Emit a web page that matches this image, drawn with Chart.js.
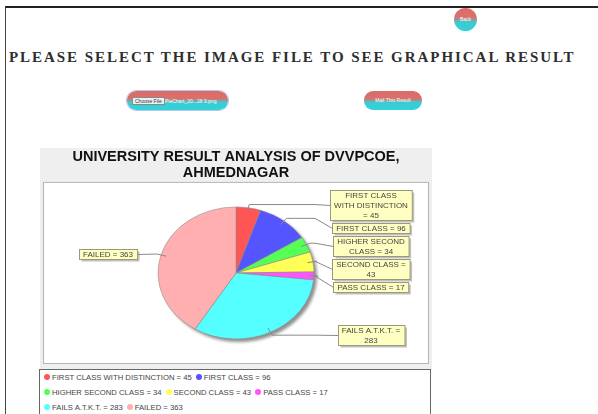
<!DOCTYPE html>
<html>
<head>
<meta charset="utf-8">
<script src="https://cdn.jsdelivr.net/npm/chart.js@4.4.1/dist/chart.umd.min.js"></script>
<style>
  body { margin: 0; width: 598px; height: 414px; overflow: hidden; background: #fff; position: relative; }
  .frame { position: absolute; left: 5px; top: 6px; right: -2px; bottom: -2px; border-top: 2px solid #222; border-left: 1px solid #444; }
  .back { position: absolute; left: 454px; top: 8px; width: 23px; height: 23px; border-radius: 50%;
    background: linear-gradient(#e06a64 0%, #d9736f 40%, #40c8cf 62%, #2fd3db 100%);
    color: #fff; font: 5px Arial, sans-serif; text-align: center; line-height: 23px; }
  h1 { position: absolute; left: 9px; top: 49px; margin: 0; font: bold 15px "Liberation Serif", serif; letter-spacing: 1.95px; color: #2e2e2e; white-space: nowrap; }
  .btn { position: absolute; height: 19px; border-radius: 9px;
    background: linear-gradient(#dc6a66 0%, #d8716d 42%, #3fc9d0 58%, #2fd3db 100%);
    color: #fff; font: 5px Arial, sans-serif; }
  .file { left: 127px; top: 91px; width: 101px; outline: 1px solid #b9c6ee; outline-offset: 0; }
  .file .choose { position: absolute; left: 5px; top: 6px; height: 6px; line-height: 6px; padding: 0 2px; background: #eee; color: #333; border: 1px solid #888; }
  .file .fname { position: absolute; left: 38px; top: 7px; }
  .mail { left: 364px; top: 91px; width: 58px; text-align: center; line-height: 19px; }
  #resultChart { position: absolute; left: 40px; top: 148px; }
  #legend { position: absolute; left: 39px; top: 369px; width: 390px; height: 50px; border: 1px solid #666; background: #fff;
    font: 7.7px Arial, sans-serif; color: #444; }
  #legend .row { height: 15px; line-height: 15px; white-space: nowrap; padding-left: 4px; }
  #legend .item { display: inline-block; margin-right: 4px; }
  #legend .dot { display: inline-block; width: 6px; height: 6px; border-radius: 50%; margin-right: 2px; vertical-align: 0px; }
</style>
</head>
<body>
<div class="frame"></div>
<div class="back">Back</div>
<h1>PLEASE SELECT THE IMAGE FILE TO SEE GRAPHICAL RESULT</h1>
<div class="btn file"><span class="choose">Choose File</span><span class="fname">PieChart_20...28 9.png</span></div>
<div class="btn mail">Mail This Result</div>
<canvas id="resultChart" width="392" height="222"></canvas>
<div id="legend"></div>
<script>
const categories = [
  "FIRST CLASS WITH DISTINCTION",
  "FIRST CLASS",
  "HIGHER SECOND CLASS",
  "SECOND CLASS",
  "PASS CLASS",
  "FAILS A.T.K.T.",
  "FAILED",
];
const counts = [45, 96, 34, 43, 17, 283, 363];
const sliceColors = ["#FF5555", "#5555FF", "#55FF55", "#FFFF55", "#FF55FF", "#55FFFF", "#FFAFAF"];
const chartTitle = ["UNIVERSITY RESULT ANALYSIS OF DVVPCOE,", "AHMEDNAGAR"];
const legendRows = [2, 3, 2];

// pie is drawn squashed like the old jfreechart image
const yScale = 0.846;

function labelText(i) {
  return categories[i] + " = " + counts[i];
}

// gray panel + white plot box
const panelBg = {
  id: "panelBg",
  beforeDraw(chart) {
    const { ctx, chartArea } = chart;
    ctx.save();
    ctx.fillStyle = "#efefef";
    ctx.fillRect(0, 0, chart.width, chart.height);
    ctx.fillStyle = "#fff";
    ctx.fillRect(chartArea.left, chartArea.top, chartArea.right - chartArea.left, chartArea.bottom - chartArea.top);
    ctx.strokeStyle = "#b5b5b5";
    ctx.lineWidth = 1;
    ctx.strokeRect(chartArea.left + 0.5, chartArea.top + 0.5, chartArea.right - chartArea.left - 1, chartArea.bottom - chartArea.top - 1);
    ctx.restore();
  },
};

const ellipsePie = {
  id: "ellipsePie",
  beforeDatasetsDraw(chart) {
    const ctx = chart.ctx;
    const arc = chart.getDatasetMeta(0).data[0];
    const { x, y, outerRadius } = arc.getProps(["x", "y", "outerRadius"], true);
    ctx.save();
    // shadow
    ctx.save();
    ctx.filter = "blur(1.5px)";
    ctx.fillStyle = "rgba(70,70,70,0.6)";
    ctx.beginPath();
    ctx.ellipse(x + 3, y + 3, outerRadius, outerRadius * yScale, 0, 0, Math.PI * 2);
    ctx.fill();
    ctx.restore();
    ctx.translate(x, y);
    ctx.scale(1, yScale);
    ctx.translate(-x, -y);
  },
  afterDatasetsDraw(chart) {
    chart.ctx.restore();
  },
};

function wrapText(ctx, text, maxWidth) {
  const words = text.split(" ");
  const lines = [];
  let line = "";
  words.forEach((w) => {
    const test = line ? line + " " + w : w;
    if (line && ctx.measureText(test).width > maxWidth) {
      lines.push(line);
      line = w;
    } else {
      line = test;
    }
  });
  lines.push(line);
  return lines;
}

const sliceLabels = {
  id: "sliceLabels",
  afterDraw(chart) {
    const ctx = chart.ctx;
    const meta = chart.getDatasetMeta(0);
    const area = chart.chartArea;
    ctx.save();
    ctx.font = "8px Arial";
    const lineH = 10;
    const sides = { left: [], right: [] };
    meta.data.forEach((arc, i) => {
      const p = arc.getProps(["x", "y", "startAngle", "endAngle", "outerRadius"], true);
      const mid = (p.startAngle + p.endAngle) / 2;
      const rx = p.outerRadius;
      const ry = p.outerRadius * yScale;
      const link = { x: p.x + Math.cos(mid) * rx * 0.93, y: p.y + Math.sin(mid) * ry * 0.93 };
      const elbow = { x: p.x + Math.cos(mid) * rx * 1.05, y: p.y + Math.sin(mid) * ry * 1.05 };
      const lines = wrapText(ctx, labelText(i), 74);
      const w = Math.max(...lines.map((l) => ctx.measureText(l).width)) + 8;
      const h = lines.length * lineH;
      const right = Math.cos(mid) >= 0;
      const cx = right ? p.x + rx + 57 : p.x - rx - 50;
      const anchorX = right ? p.x + rx + 1 : p.x - rx - 1;
      sides[right ? "right" : "left"].push({ link, elbow, lines, w, h, cx, anchorX, right, ideal: elbow.y });
    });
    Object.values(sides).forEach((list) => {
      list.sort((a, b) => a.ideal - b.ideal);
      let prevBottom = -Infinity;
      list.forEach((lb) => {
        lb.top = Math.max(lb.ideal - lb.h / 2, prevBottom + 3);
        prevBottom = lb.top + lb.h;
      });
      const over = prevBottom - (area.bottom - 4);
      if (over > 0) list.forEach((lb) => (lb.top -= over));
    });
    [...sides.left, ...sides.right].forEach((lb) => {
      const bx = Math.round(lb.cx - lb.w / 2) + 0.5;
      const by = Math.round(lb.top) + 0.5;
      const cy = by + lb.h / 2;
      const edgeX = lb.right ? bx : bx + lb.w;
      // link line
      ctx.strokeStyle = "#8a8a8a";
      ctx.lineWidth = 1;
      ctx.beginPath();
      ctx.moveTo(lb.link.x, lb.link.y);
      ctx.lineTo(lb.elbow.x, lb.elbow.y);
      ctx.lineTo(lb.anchorX, lb.elbow.y);
      ctx.lineTo(edgeX, cy);
      ctx.stroke();
      // box
      ctx.fillStyle = "rgba(140,140,140,0.55)";
      ctx.fillRect(bx + 2, by + 2, lb.w, lb.h);
      ctx.fillStyle = "#ffffc2";
      ctx.fillRect(bx, by, lb.w, lb.h);
      ctx.strokeStyle = "#9a9a7a";
      ctx.strokeRect(bx, by, lb.w, lb.h);
      ctx.fillStyle = "#444";
      ctx.textAlign = "center";
      ctx.textBaseline = "middle";
      lb.lines.forEach((l, k) => {
        ctx.fillText(l, lb.cx, by + lineH * k + lineH / 2 + 0.5);
      });
    });
    ctx.restore();
  },
};

const resultCtx = document.getElementById("resultChart").getContext("2d");
const resultChart = new Chart(resultCtx, {
  type: "pie",
  data: {
    labels: categories,
    datasets: [
      {
        data: counts,
        backgroundColor: sliceColors,
        borderColor: "#8c8c8c",
        borderWidth: 0.6,
      },
    ],
  },
  options: {
    responsive: false,
    animation: false,
    events: [],
    radius: 78,
    layout: { padding: { left: 3, right: 3, top: 0, bottom: 6 } },
    plugins: {
      legend: { display: false },
      tooltip: { enabled: false },
      title: {
        display: true,
        text: chartTitle,
        color: "#111",
        font: { family: "Arial", size: 14.5, weight: "bold", lineHeight: 1.1 },
        padding: { top: 1, bottom: 1 },
      },
    },
  },
  plugins: [panelBg, ellipsePie, sliceLabels],
});

// legend in its own box, rows like the original
const legendEl = document.getElementById("legend");
let idx = 0;
legendRows.forEach((n) => {
  const row = document.createElement("div");
  row.className = "row";
  for (let k = 0; k < n; k++, idx++) {
    const item = document.createElement("span");
    item.className = "item";
    const dot = document.createElement("span");
    dot.className = "dot";
    dot.style.background = sliceColors[idx];
    item.appendChild(dot);
    item.appendChild(document.createTextNode(labelText(idx)));
    row.appendChild(item);
  }
  legendEl.appendChild(row);
});
</script>
</body>
</html>
